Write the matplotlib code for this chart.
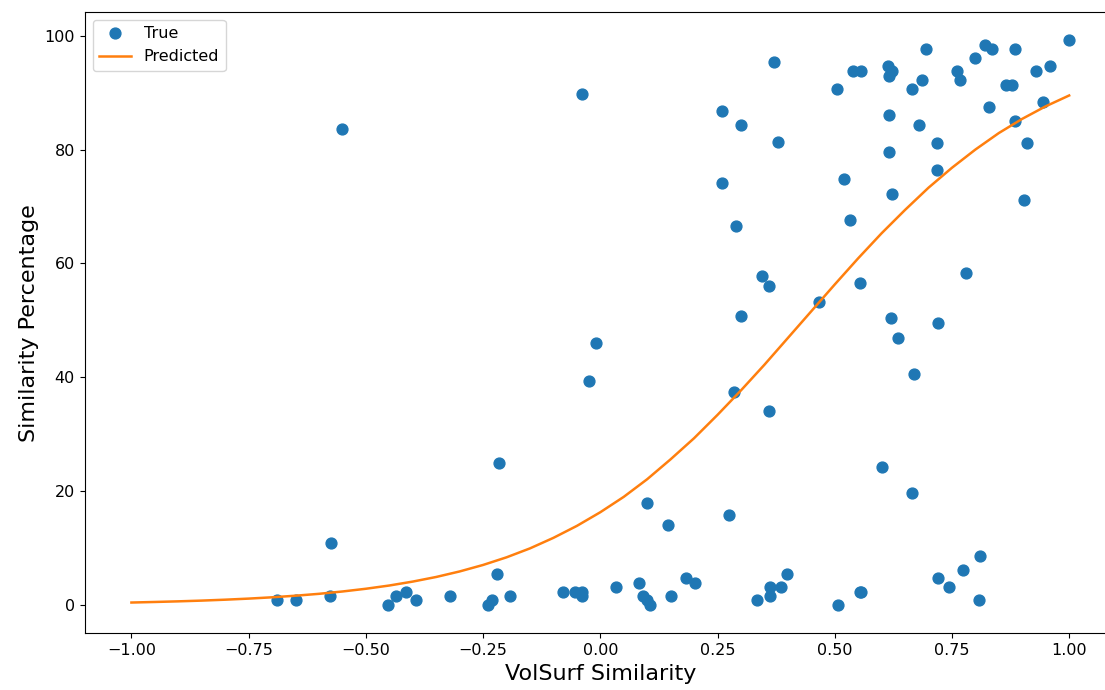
import numpy as np
import matplotlib.pyplot as plt

# observed points (VolSurf similarity, similarity percentage)
true_x = [-0.55, -0.04, 0.37, 0.26, 0.30, 0.38, 0.26, 0.29, 0.345, 0.36,
          0.30, -0.01, -0.025, 0.285, 0.36, -0.215, 0.10, 0.145, 0.275, 0.467,
          0.505, 0.54, 0.556, 0.52, 0.533, 0.553, 0.613, 0.615, 0.623, 0.615,
          0.615, 0.623, 0.62, 0.635, 0.665, 0.687, 0.695, 0.68, 0.718, 0.718,
          0.72, 0.67, 0.60, 0.665, 0.76, 0.768, 0.80, 0.82, 0.835, 0.83,
          0.78, 0.865, 0.878, 0.885, 0.885, 0.91, 0.904, 0.93, 0.945, 0.96,
          1.00,
          -0.69, -0.65, -0.577, -0.575, -0.452, -0.435, -0.415, -0.393, -0.32, -0.24,
          -0.23, -0.22, -0.192, -0.08, -0.055, -0.04, -0.04, 0.033, 0.082, 0.092,
          0.100, 0.107, 0.15, 0.183, 0.202, 0.335, 0.362, 0.362, 0.385, 0.398,
          0.508, 0.553, 0.555, 0.72, 0.743, 0.774, 0.81, 0.808]
true_y = [83.6, 89.8, 95.3, 86.7, 84.4, 81.3, 74.2, 66.5, 57.8, 56.0,
          50.8, 46.1, 39.4, 37.5, 34.1, 25.0, 18.0, 14.1, 15.8, 53.2,
          90.6, 93.8, 93.8, 74.8, 67.7, 56.6, 94.6, 93.0, 93.8, 86.0,
          79.6, 72.2, 50.4, 46.9, 90.6, 92.2, 97.6, 84.4, 81.1, 76.4,
          49.6, 40.6, 24.2, 19.6, 93.8, 92.2, 96.1, 98.4, 97.6, 87.5,
          58.3, 91.4, 91.4, 97.6, 85.1, 81.1, 71.1, 93.8, 88.3, 94.6,
          99.2,
          0.8, 0.8, 1.6, 10.9, 0.0, 1.6, 2.3, 0.8, 1.6, 0.0,
          0.8, 5.5, 1.6, 2.3, 2.3, 2.3, 1.6, 3.1, 3.9, 1.6,
          0.8, 0.0, 1.6, 4.7, 3.9, 0.8, 1.6, 3.1, 3.1, 5.5,
          0.0, 2.3, 2.3, 4.7, 3.1, 6.2, 8.6, 0.8]

# fitted curve, every 0.05
pred_x = [-1.00, -0.95, -0.90, -0.85, -0.80, -0.75, -0.70, -0.65, -0.60, -0.55,
          -0.50, -0.45, -0.40, -0.35, -0.30, -0.25, -0.20, -0.15, -0.10, -0.05,
          0.00, 0.05, 0.10, 0.15, 0.20, 0.25, 0.30, 0.35, 0.40, 0.45,
          0.50, 0.55, 0.60, 0.65, 0.70, 0.75, 0.80, 0.85, 0.90, 0.95, 1.00]
pred_y = [0.44, 0.54, 0.65, 0.78, 0.94, 1.13, 1.36, 1.64, 1.97, 2.38,
          2.86, 3.43, 4.12, 4.93, 5.90, 7.04, 8.38, 9.95, 11.8, 13.9,
          16.3, 19.0, 22.1, 25.6, 29.3, 33.4, 37.7, 42.2, 46.9, 51.6,
          56.3, 60.9, 65.3, 69.4, 73.3, 76.8, 80.0, 82.9, 85.4, 87.6, 89.5]

fig = plt.figure(figsize=(11.05, 6.9), dpi=100)
ax = fig.add_axes([0.0765, 0.0822, 0.9335, 0.9004])
ax.plot(true_x, true_y, 'o', color='#1f77b4', markersize=7.8, label='True')
ax.plot(pred_x, pred_y, color='#ff7f0e', linewidth=1.8, label='Predicted')
ax.set_xlim(-1.1, 1.1)
ax.set_xticks(np.arange(-1.0, 1.01, 0.25))
ax.set_xlabel('VolSurf Similarity', fontsize=16)
ax.set_ylabel('Similarity Percentage', fontsize=16)
ax.tick_params(labelsize=11.5)
ax.legend(loc='upper left', fontsize=11.5)
fig.savefig('out.png', dpi=100)
